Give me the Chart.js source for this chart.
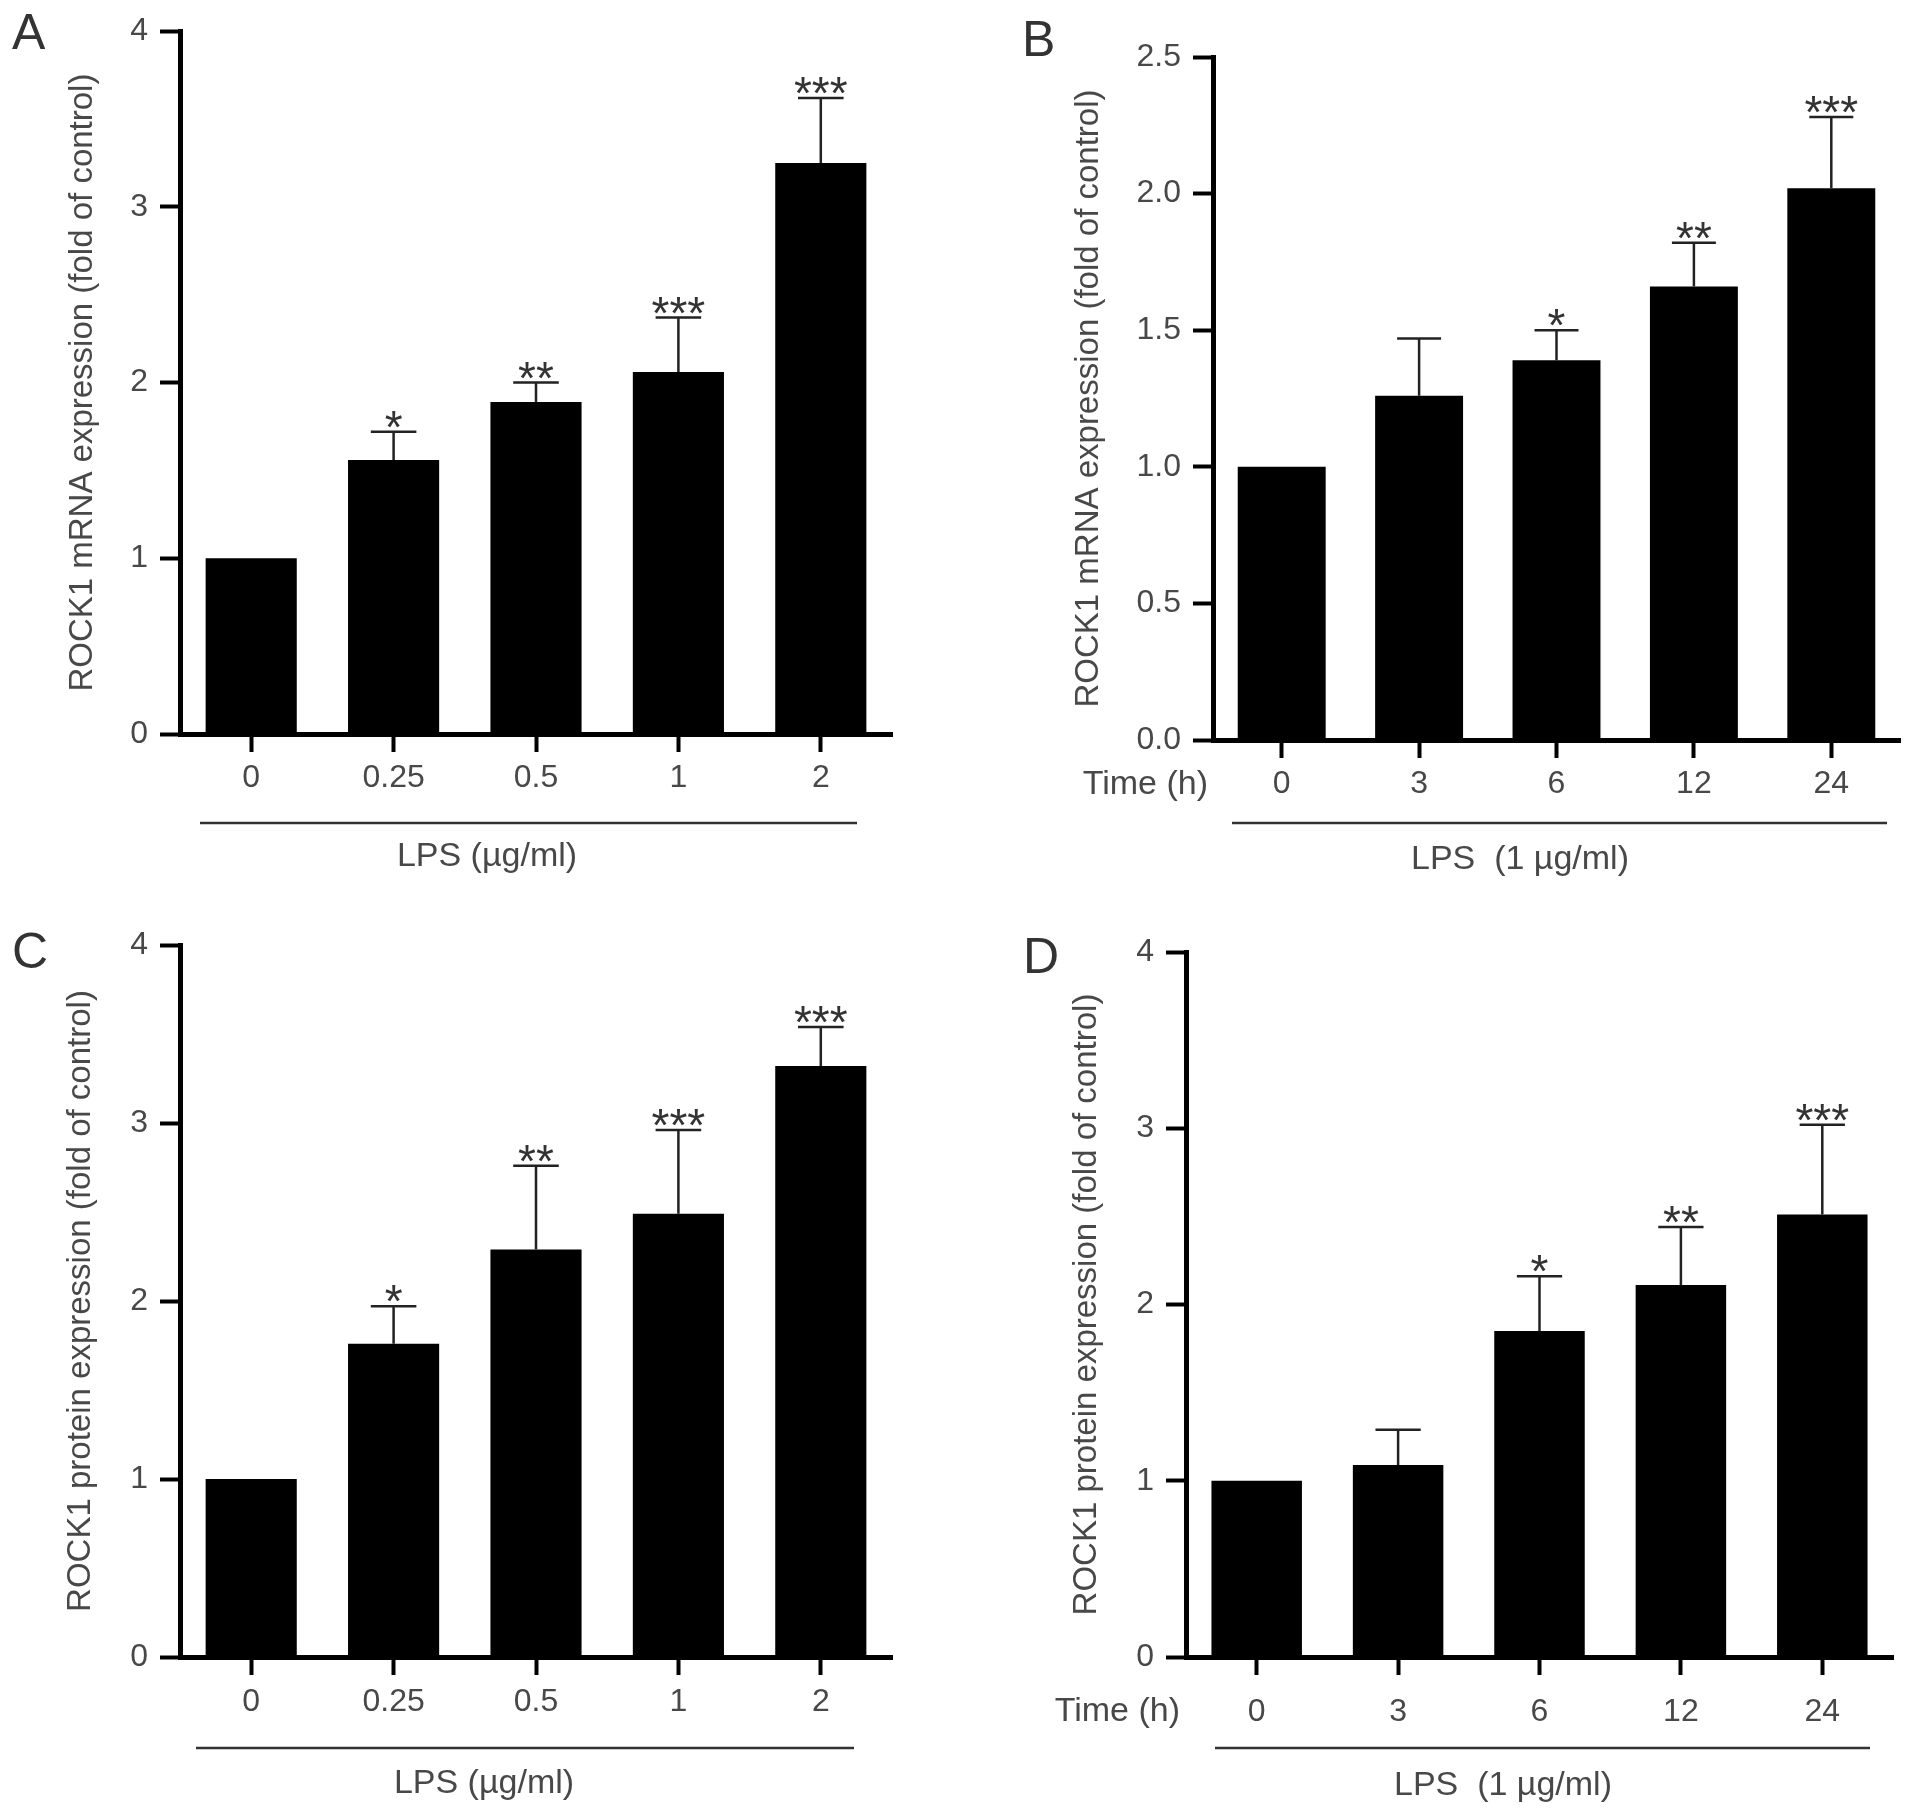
<!DOCTYPE html>
<html>
<head>
<meta charset="utf-8">
<script src="https://cdn.jsdelivr.net/npm/chart.js@4.4.1/dist/chart.umd.min.js"></script>
<style>
  body { margin: 0; background: #fff; }
  #wrap { position: relative; width: 1913px; height: 1814px; }
  canvas { position: absolute; }
</style>
</head>
<body>
<div id="wrap">
  <canvas id="chartA" style="left:0;top:0"></canvas>
  <canvas id="chartB" style="left:956px;top:0"></canvas>
  <canvas id="chartC" style="left:0;top:907px"></canvas>
  <canvas id="chartD" style="left:956px;top:907px"></canvas>
</div>
<script>
// Categories
const doseLabels = ['0', '0.25', '0.5', '1', '2'];
const timeLabels = ['0', '3', '6', '12', '24'];

// A: mRNA vs dose
const mrnaDose = [1.00, 1.56, 1.89, 2.06, 3.25];
const mrnaDoseSD = [0, 0.16, 0.11, 0.31, 0.37];
const mrnaDoseStars = ['', '*', '**', '***', '***'];

// B: mRNA vs time
const mrnaTime = [1.00, 1.26, 1.39, 1.66, 2.02];
const mrnaTimeSD = [0, 0.21, 0.11, 0.16, 0.26];
const mrnaTimeStars = ['', '', '*', '**', '***'];

// C: protein vs dose
const protDose = [1.00, 1.76, 2.29, 2.49, 3.32];
const protDoseSD = [0, 0.21, 0.47, 0.47, 0.22];
const protDoseStars = ['', '*', '**', '***', '***'];

// D: protein vs time
const protTime = [1.00, 1.09, 1.85, 2.11, 2.51];
const protTimeSD = [0, 0.20, 0.31, 0.33, 0.51];
const protTimeStars = ['', '', '*', '**', '***'];

const FONT = '"Liberation Sans", Arial, Helvetica, sans-serif';
const TEXT = '#484848';

// draws error bars, stars, the underline + LPS label, panel letter
const extrasPlugin = {
  id: 'extras',
  afterDatasetsDraw(chart, args, opts) {
    const ctx = chart.ctx;
    const meta = chart.getDatasetMeta(0);
    const y = chart.scales.y;
    const vals = chart.data.datasets[0].data;
    ctx.save();
    meta.data.forEach((bar, i) => {
      const sd = opts.sd[i];
      let topY = y.getPixelForValue(vals[i]);
      if (sd > 0) {
        const hi = y.getPixelForValue(vals[i] + sd);
        const half = bar.width / 4;
        ctx.strokeStyle = '#222';
        ctx.lineWidth = 2.5;
        ctx.beginPath();
        ctx.moveTo(bar.x, topY);
        ctx.lineTo(bar.x, hi);
        ctx.moveTo(bar.x - half, hi);
        ctx.lineTo(bar.x + half, hi);
        ctx.stroke();
        topY = hi;
      }
      if (opts.stars[i]) {
        ctx.fillStyle = '#333';
        ctx.font = '46px ' + FONT;
        ctx.textAlign = 'center';
        ctx.textBaseline = 'alphabetic';
        ctx.fillText(opts.stars[i], bar.x, topY + 11);
      }
    });
    ctx.restore();
  },
  afterDraw(chart, args, opts) {
    const ctx = chart.ctx;
    ctx.save();
    // line under the categories
    ctx.strokeStyle = '#333';
    ctx.lineWidth = 2.5;
    ctx.beginPath();
    ctx.moveTo(opts.line[0], opts.line[2]);
    ctx.lineTo(opts.line[1], opts.line[2]);
    ctx.stroke();
    ctx.fillStyle = TEXT;
    ctx.font = '34px ' + FONT;
    ctx.textAlign = 'center';
    ctx.textBaseline = 'middle';
    ctx.fillText(opts.treat, opts.treatPos[0], opts.treatPos[1]);
    if (opts.time) {
      ctx.textAlign = 'right';
      ctx.fillText(opts.time, opts.timePos[0], opts.timePos[1]);
    }
    ctx.font = '50px ' + FONT;
    ctx.textAlign = 'left';
    ctx.textBaseline = 'alphabetic';
    ctx.fillStyle = '#333';
    ctx.fillText(opts.letter, opts.letterPos[0], opts.letterPos[1]);
    ctx.restore();
  }
};

function makePanel(id, cfg) {
  const canvas = document.getElementById(id);
  canvas.width = cfg.w;
  canvas.height = cfg.h;
  canvas.style.width = cfg.w + 'px';
  canvas.style.height = cfg.h + 'px';
  const area = cfg.area; // left, top, right, bottom
  return new Chart(canvas, {
    type: 'bar',
    data: {
      labels: cfg.labels,
      datasets: [{
        data: cfg.values,
        backgroundColor: '#000',
        borderWidth: 0,
        barPercentage: 0.64,
        categoryPercentage: 1
      }]
    },
    options: {
      responsive: false,
      animation: false,
      devicePixelRatio: 1,
      layout: { padding: { left: 0, top: area[1], right: cfg.w - area[2], bottom: 0 } },
      plugins: {
        legend: { display: false },
        tooltip: { enabled: false },
        extras: cfg.extras
      },
      scales: {
        x: {
          afterFit: s => { s.height = cfg.h - area[3]; },
          grid: { display: true, drawOnChartArea: false, offset: false, tickLength: 18, tickWidth: 4, tickColor: '#000', color: '#000' },
          border: { display: true, color: '#000', width: 5 },
          ticks: { color: TEXT, font: { family: FONT, size: 32 }, padding: cfg.xPad, maxRotation: 0 }
        },
        y: {
          min: 0,
          max: cfg.max,
          afterFit: s => { s.width = area[0]; },
          grid: { display: true, drawOnChartArea: false, tickLength: 20, tickWidth: 4, tickColor: '#000', color: '#000' },
          border: { display: true, color: '#000', width: 5 },
          ticks: {
            stepSize: cfg.step,
            color: TEXT,
            font: { family: FONT, size: 32 },
            padding: 12,
            callback: cfg.fmt
          },
          title: {
            display: true,
            text: cfg.yTitle,
            color: TEXT,
            font: { family: FONT, size: 33 },
            padding: { top: cfg.titlePad, bottom: 0 }
          }
        }
      }
    },
    plugins: [extrasPlugin]
  });
}

const intFmt = v => String(v);
const oneDec = v => v.toFixed(1);

makePanel('chartA', {
  w: 956, h: 907, area: [180, 23, 892, 734],
  labels: doseLabels, values: mrnaDose, max: 4, step: 1, fmt: intFmt, xPad: 7, titlePad: 63,
  yTitle: 'ROCK1 mRNA expression (fold of control)',
  extras: { sd: mrnaDoseSD, stars: mrnaDoseStars, line: [200, 857, 823], treat: 'LPS (\u00b5g/ml)', treatPos: [487, 857],
            letter: 'A', letterPos: [12, 49] }
});

makePanel('chartB', {
  w: 957, h: 907, area: [257, 57, 944, 740],
  labels: timeLabels, values: mrnaTime, max: 2.5, step: 0.5, fmt: oneDec, xPad: 7, titlePad: 113,
  yTitle: 'ROCK1 mRNA expression (fold of control)',
  extras: { sd: mrnaTimeSD, stars: mrnaTimeStars, line: [276, 931, 823], treat: 'LPS  (1 \u00b5g/ml)', treatPos: [564, 860],
            time: 'Time (h)', timePos: [252, 785], letter: 'B', letterPos: [66, 56] }
});

makePanel('chartC', {
  w: 956, h: 907, area: [180, 38, 892, 750],
  labels: doseLabels, values: protDose, max: 4, step: 1, fmt: intFmt, xPad: 8, titlePad: 61,
  yTitle: 'ROCK1 protein expression (fold of control)',
  extras: { sd: protDoseSD, stars: protDoseStars, line: [196, 854, 841], treat: 'LPS (\u00b5g/ml)', treatPos: [484, 877],
            letter: 'C', letterPos: [12, 61] }
});

makePanel('chartD', {
  w: 957, h: 907, area: [230, 45, 937, 750],
  labels: timeLabels, values: protTime, max: 4, step: 1, fmt: intFmt, xPad: 18, titlePad: 111,
  yTitle: 'ROCK1 protein expression (fold of control)',
  extras: { sd: protTimeSD, stars: protTimeStars, line: [259, 914, 841], treat: 'LPS  (1 \u00b5g/ml)', treatPos: [547, 879],
            time: 'Time (h)', timePos: [224, 805], letter: 'D', letterPos: [67, 66] }
});
</script>
</body>
</html>
